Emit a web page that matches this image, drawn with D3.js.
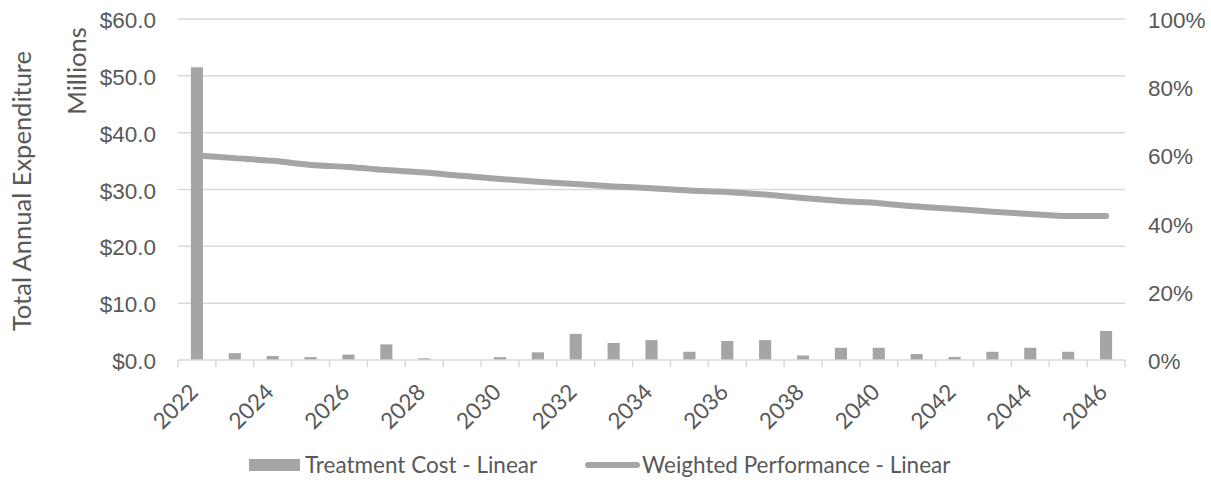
<!DOCTYPE html>
<html>
<head>
<meta charset="utf-8">
<script src="https://cdn.jsdelivr.net/npm/d3@7"></script>
<style>
  html, body { margin: 0; padding: 0; background: #fff; }
  svg { display: block; font-family: Lato, "Open Sans", sans-serif; }
</style>
</head>
<body>
<svg id="chart" width="1211" height="484"></svg>
<script>
// Annual data, 2022 - 2046
const years = [2022, 2023, 2024, 2025, 2026, 2027, 2028, 2029, 2030, 2031, 2032, 2033,
  2034, 2035, 2036, 2037, 2038, 2039, 2040, 2041, 2042, 2043, 2044, 2045, 2046];

// Treatment cost, $ millions
const treatmentCost = [51.5, 1.2, 0.7, 0.5, 0.95, 2.75, 0.3, 0, 0.5, 1.35, 4.6, 3.0,
  3.5, 1.45, 3.35, 3.5, 0.8, 2.15, 2.15, 1.05, 0.55, 1.45, 2.15, 1.45, 5.1];

// Weighted performance, percent
const weightedPerformance = [60.0, 59.2, 58.4, 57.2, 56.6, 55.7, 55.0, 54.0, 53.1, 52.3,
  51.6, 50.9, 50.4, 49.7, 49.3, 48.5, 47.5, 46.6, 46.0, 45.0, 44.3, 43.5, 42.8, 42.2, 42.2];

const costTicks = [0, 10, 20, 30, 40, 50, 60];
const pctTicks = [0, 20, 40, 60, 80, 100];

const seriesNames = ["Treatment Cost - Linear", "Weighted Performance - Linear"];
const yTitle = "Total Annual Expenditure";
const yUnit = "Millions";

const grey = "#a5a5a5";
const textColor = "#595959";
const gridColor = "#d9d9d9";
const tickFont = "22.5px";
const titleFont = "25.5px";

const svg = d3.select("#chart");
const plot = { left: 178, right: 1125, top: 19, bottom: 360 };

const x = d3.scaleBand()
  .domain(years)
  .range([plot.left, plot.right])
  .paddingInner(0.68)
  .paddingOuter(0.34);

const yCost = d3.scaleLinear().domain([0, 60]).range([plot.bottom, plot.top]);
const yPct = d3.scaleLinear().domain([0, 100]).range([plot.bottom, plot.top]);

// Horizontal gridlines
svg.append("g")
  .selectAll("line")
  .data(costTicks.filter(d => d > 0))
  .join("line")
  .attr("x1", plot.left).attr("x2", plot.right)
  .attr("y1", d => yCost(d)).attr("y2", d => yCost(d))
  .attr("stroke", gridColor).attr("stroke-width", 1.5);

// Left axis labels
const leftAxis = svg.append("g")
  .attr("transform", `translate(${plot.left},0)`)
  .call(d3.axisLeft(yCost).tickValues(costTicks).tickSize(0).tickPadding(22)
    .tickFormat(d => "$" + d3.format(".1f")(d)));
leftAxis.select(".domain").remove();
leftAxis.selectAll("text").attr("fill", textColor).style("font-size", tickFont)
  .attr("dy", "0.38em");

// Right axis labels
const rightAxis = svg.append("g")
  .attr("transform", `translate(${plot.right},0)`)
  .call(d3.axisRight(yPct).tickValues(pctTicks).tickSize(0).tickPadding(23)
    .tickFormat(d => d + "%"));
rightAxis.select(".domain").remove();
rightAxis.selectAll("text").attr("fill", textColor).style("font-size", tickFont)
  .attr("dy", "0.38em");

// Bars
svg.append("g")
  .selectAll("rect")
  .data(years)
  .join("rect")
  .attr("x", d => x(d))
  .attr("width", x.bandwidth())
  .attr("y", (d, i) => yCost(treatmentCost[i]))
  .attr("height", (d, i) => yCost(0) - yCost(treatmentCost[i]))
  .attr("fill", grey);

// Category axis line with tick marks at band boundaries
const step = x.step();
const boundaries = d3.range(years.length + 1).map(i => plot.left + i * step);
const xAxisG = svg.append("g");
xAxisG.append("line")
  .attr("x1", plot.left).attr("x2", plot.right)
  .attr("y1", plot.bottom).attr("y2", plot.bottom)
  .attr("stroke", gridColor).attr("stroke-width", 1.5);
xAxisG.selectAll("line.tick")
  .data(boundaries)
  .join("line")
  .attr("class", "tick")
  .attr("x1", d => d).attr("x2", d => d)
  .attr("y1", plot.bottom).attr("y2", plot.bottom + 7)
  .attr("stroke", gridColor).attr("stroke-width", 1.5);

// Category labels, every other year, rotated
xAxisG.selectAll("text")
  .data(years.filter((d, i) => i % 2 === 0))
  .join("text")
  .attr("transform", d => `translate(${x(d) + x.bandwidth() / 2 - 3},${plot.bottom + 28}) rotate(-45)`)
  .attr("text-anchor", "end")
  .attr("dy", "0.35em")
  .attr("fill", textColor)
  .style("font-size", tickFont)
  .text(d => d);

// Performance line
const line = d3.line()
  .x((d, i) => x(years[i]) + x.bandwidth() / 2)
  .y(d => yPct(d))
  .curve(d3.curveMonotoneX);
svg.append("path")
  .datum(weightedPerformance)
  .attr("d", line)
  .attr("fill", "none")
  .attr("stroke", grey)
  .attr("stroke-width", 6)
  .attr("stroke-linecap", "round");

// Axis titles
svg.append("text")
  .attr("transform", "translate(22,191) rotate(-90)")
  .attr("text-anchor", "middle")
  .attr("dy", "0.35em")
  .attr("fill", textColor)
  .style("font-size", titleFont)
  .text(yTitle);
svg.append("text")
  .attr("transform", "translate(77,71) rotate(-90)")
  .attr("text-anchor", "middle")
  .attr("dy", "0.35em")
  .attr("fill", textColor)
  .style("font-size", titleFont)
  .text(yUnit);

// Legend
const legend = svg.append("g").attr("transform", "translate(0,465)");
legend.append("rect")
  .attr("x", 249).attr("y", -6).attr("width", 51).attr("height", 12)
  .attr("fill", grey);
legend.append("text")
  .attr("x", 305).attr("dy", "0.35em")
  .attr("fill", textColor).style("font-size", tickFont)
  .text(seriesNames[0]);
legend.append("line")
  .attr("x1", 588).attr("x2", 637).attr("y1", 0).attr("y2", 0)
  .attr("stroke", grey).attr("stroke-width", 6).attr("stroke-linecap", "round");
legend.append("text")
  .attr("x", 642).attr("dy", "0.35em")
  .attr("fill", textColor).style("font-size", tickFont)
  .text(seriesNames[1]);
</script>
</body>
</html>
